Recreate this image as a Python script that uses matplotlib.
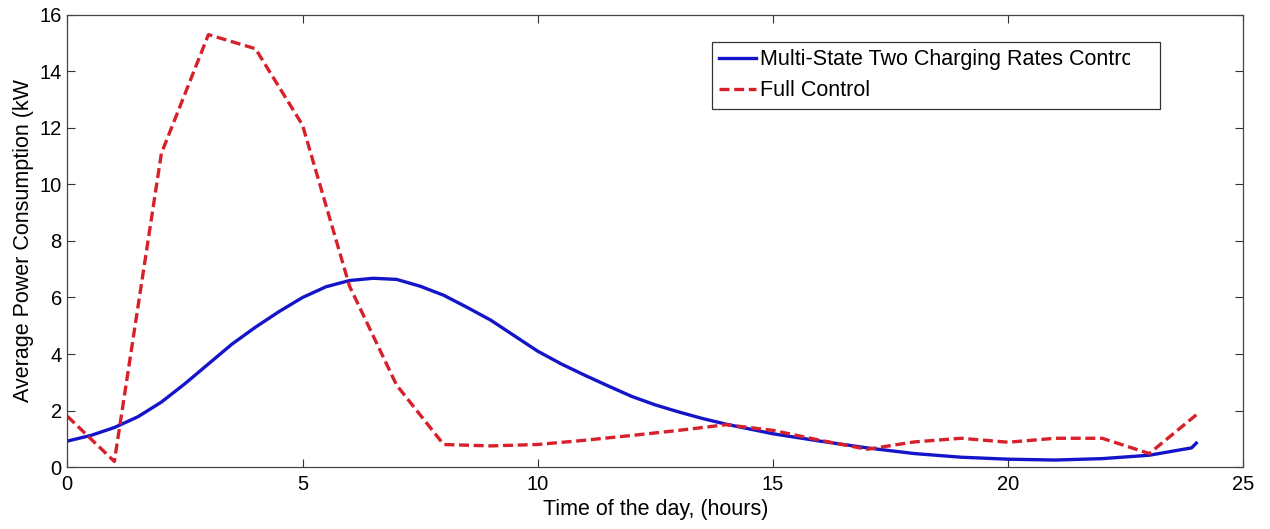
import matplotlib
matplotlib.use('Agg')
import matplotlib.pyplot as plt
from matplotlib.transforms import Bbox

plt.rcParams['font.family'] = ['Liberation Sans', 'DejaVu Sans']

# full control: hourly values
full_hours = list(range(0, 25))
full_power = [1.8, 0.2, 11.1, 15.3, 14.8, 12.1, 6.4, 2.9, 0.8, 0.75, 0.8, 0.95,
              1.12, 1.3, 1.5, 1.3, 0.95, 0.63, 0.89, 1.02, 0.88, 1.02, 1.02, 0.48, 1.85]

# multi-state two charging rates control (read every half hour)
multi_hours = [0, 0.5, 1, 1.5, 2, 2.5, 3, 3.5, 4, 4.5, 5, 5.5, 6, 6.5, 7, 7.5, 8,
               8.5, 9, 9.5, 10, 10.5, 11, 11.5, 12, 12.5, 13, 13.5, 14, 15, 16, 17,
               18, 19, 20, 21, 22, 23, 23.9, 24]
multi_power = [0.92, 1.12, 1.4, 1.78, 2.3, 2.95, 3.65, 4.35, 4.95, 5.5, 6.0, 6.38,
               6.6, 6.68, 6.64, 6.4, 6.08, 5.65, 5.2, 4.65, 4.1, 3.65, 3.25, 2.87,
               2.5, 2.2, 1.95, 1.72, 1.52, 1.18, 0.92, 0.68, 0.48, 0.35, 0.28, 0.25,
               0.3, 0.42, 0.68, 0.85]

fig = plt.figure(figsize=(12.7, 5.29), dpi=100)
ax = fig.add_axes([0.053, 0.117, 0.926, 0.855])

ax.plot(multi_hours, multi_power, color='#1414c8', linewidth=2.4,
        label='Multi-State Two Charging Rates Control')
ax.plot(full_hours, full_power, color='#d8202a', linewidth=2.4,
        linestyle=(0, (3, 1.4)), label='Full Control')

ax.set_xlim(0, 25)
ax.set_ylim(0, 16)
ax.set_xticks([0, 5, 10, 15, 20, 25])
ax.set_yticks([0, 2, 4, 6, 8, 10, 12, 14, 16])
ax.tick_params(direction='in', length=6, width=0.8, labelsize=14.5,
               top=True, right=True, colors='#333333', labelcolor='black')
ax.tick_params(axis='x', pad=6)
ax.tick_params(axis='y', pad=4)
for s in ax.spines.values():
    s.set_color('#444444')
    s.set_linewidth(0.9)

ax.set_xlabel('Time of the day, (hours)', fontsize=15.5, labelpad=3)
ax.set_ylabel('Average Power Consumption (kW', fontsize=15.5, labelpad=4)

leg = ax.legend(loc='upper left', bbox_to_anchor=(0.548, 0.5, 0.381, 0.44),
                mode='expand', fontsize=15.5, frameon=True, fancybox=False,
                handlelength=1.7, handletextpad=0.2, borderaxespad=0,
                borderpad=0.35, labelspacing=0.45)
leg.get_frame().set_edgecolor('black')
leg.get_frame().set_linewidth(0.9)

fig.canvas.draw()
fb = leg.get_frame().get_window_extent()
clip = Bbox.from_extents(fb.x0, fb.y0, fb.x1 - 30, fb.y1)
for t in leg.get_texts():
    t.set_clip_box(clip)
    t.set_clip_on(True)

fig.savefig('out.png', dpi=100)
